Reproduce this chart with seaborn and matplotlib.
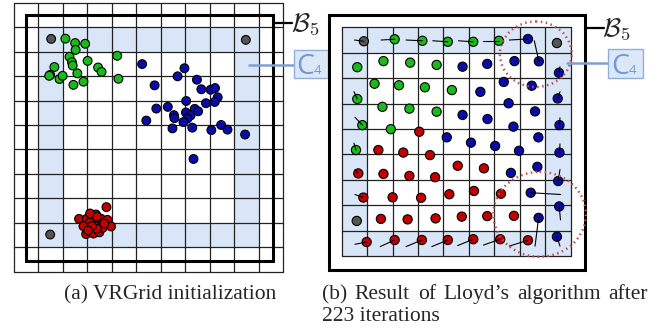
import matplotlib
matplotlib.use('Agg')
import matplotlib.pyplot as plt
import seaborn as sns
import pandas as pd
from matplotlib.patches import Rectangle, Ellipse

sns.set_theme(style='white')
plt.rcParams['font.family'] = ['Liberation Serif', 'DejaVu Serif']
plt.rcParams['mathtext.fontset'] = 'cm'

# ---------------- data (grid-cell units, 9x9 grid, y downward) ----------------
init_green_x = [1.10, 1.50, 1.91, 1.52, 3.22, 1.27, 1.37, 1.40, 2.01, 2.44, 2.58, 0.65, 0.48, 0.44, 0.86, 0.99, 1.59, 1.84, 1.43, 3.27]
init_green_y = [0.47, 0.65, 0.68, 0.93, 1.17, 1.21, 1.43, 1.57, 1.38, 1.65, 1.83, 1.63, 1.95, 1.99, 2.12, 1.99, 1.89, 2.23, 2.36, 2.11]
init_blue_x = [4.24, 5.97, 5.69, 4.75, 6.48, 6.66, 7.04, 7.22, 7.33, 7.21, 6.85, 6.04, 5.29, 4.82, 6.39, 6.53, 6.03, 6.22, 5.54, 5.56,
               6.09, 5.93, 4.41, 5.48, 6.29, 7.07, 7.47, 7.73, 8.45, 6.34]
init_blue_y = [1.51, 1.68, 2.01, 2.38, 2.15, 2.54, 2.56, 2.49, 2.87, 3.06, 3.11, 3.02, 3.26, 3.33, 3.34, 3.44, 3.49, 3.61, 3.60, 3.72,
               3.74, 3.88, 3.82, 4.14, 4.11, 4.21, 4.00, 4.19, 4.39, 5.39]
init_red_x = [2.78, 1.66, 1.98, 2.18, 2.25, 2.09, 2.45, 2.55, 2.82, 2.97, 2.32, 1.98, 1.95, 2.25, 2.49, 2.62, 2.39, 1.84, 2.18, 2.35,
              2.03, 2.69, 2.11, 2.40]
init_red_y = [7.36, 7.84, 7.83, 7.77, 7.91, 8.00, 7.96, 7.83, 7.88, 8.15, 8.14, 8.21, 8.46, 8.44, 8.39, 8.21, 8.25, 8.14, 8.14, 7.66,
              8.32, 8.03, 7.62, 7.75]
init_gray_x = [0.52, 8.48, 0.48]
init_gray_y = [0.48, 0.52, 8.48]

final_green_x = [2.08, 3.17, 4.17, 5.17, 6.18, 0.61, 1.64, 2.69, 3.73, 1.29, 2.25, 3.27, 4.33, 0.61, 1.60, 2.66, 3.73, 0.81, 1.93, 0.56]
final_green_y = [0.47, 0.53, 0.57, 0.57, 0.53, 1.57, 1.33, 1.39, 1.48, 2.22, 2.28, 2.36, 2.47, 2.82, 3.13, 3.20, 3.32, 3.85, 4.01, 4.83]
final_blue_x = [7.32, 7.75, 4.75, 5.72, 6.79, 8.54, 5.45, 6.37, 7.47, 8.49, 4.75, 5.73, 6.56, 7.60, 8.56, 4.13, 5.08, 6.03, 6.75, 7.73,
                8.56, 6.65, 6.97, 7.69, 8.51, 7.43, 8.55, 7.74, 8.46]
final_blue_y = [0.46, 1.34, 1.55, 1.44, 1.33, 1.79, 2.54, 2.15, 2.30, 2.80, 3.45, 3.61, 2.99, 3.31, 3.85, 4.33, 4.54, 4.67, 3.91, 4.33,
                4.93, 5.73, 4.86, 5.49, 6.05, 6.51, 7.05, 7.50, 8.24]
final_red_x = [3.05, 1.44, 2.42, 3.47, 0.65, 1.64, 2.66, 3.67, 4.56, 5.59, 0.85, 2.00, 3.12, 4.23, 5.20, 6.26, 1.54, 2.59, 3.69, 4.72,
               5.72, 6.77, 0.98, 2.08, 3.15, 4.17, 5.17, 6.23, 7.32]
final_red_y = [4.11, 4.83, 4.93, 5.03, 5.75, 5.77, 5.85, 5.90, 5.45, 5.55, 6.70, 6.69, 6.71, 6.57, 6.44, 6.55, 7.54, 7.56, 7.52, 7.45,
               7.43, 7.42, 8.45, 8.37, 8.37, 8.37, 8.34, 8.34, 8.38]
final_gray_x = [0.87, 8.46, 0.59]
final_gray_y = [0.55, 0.62, 7.62]

# displacement links: ring anchor -> assigned point
link_from_x = [0.50, 1.55, 2.53, 3.58, 4.59, 5.57, 6.59, 7.57, 8.58, 8.58, 8.58, 8.58, 8.58, 8.61, 8.60, 8.58,
               0.52, 1.51, 2.53, 3.54, 4.56, 5.57, 6.59, 7.60, 0.48, 0.52, 0.48, 0.52, 0.52]
link_from_y = [0.50, 0.50, 0.50, 0.53, 0.53, 0.53, 0.50, 0.53, 1.55, 2.54, 3.56, 4.59, 5.60, 6.58, 7.58, 8.61,
               8.54, 8.63, 8.63, 8.63, 8.59, 8.57, 8.61, 8.61, 2.53, 3.54, 4.56, 5.60, 6.58]
link_to_x = [0.87, 2.08, 3.17, 4.17, 5.17, 6.18, 7.32, 7.75, 8.54, 8.49, 8.56, 8.56, 8.51, 7.43, 8.55, 8.46,
             0.98, 2.08, 3.15, 4.17, 5.17, 6.23, 7.32, 7.74, 0.61, 0.81, 0.56, 0.65, 0.85]
link_to_y = [0.55, 0.47, 0.53, 0.57, 0.57, 0.53, 0.46, 1.34, 1.79, 2.80, 3.85, 4.93, 6.05, 6.51, 7.05, 8.24,
             8.45, 8.37, 8.37, 8.37, 8.34, 8.34, 8.38, 7.50, 2.82, 3.85, 4.83, 5.75, 6.70]

highlight_cx = [7.63, 7.78]
highlight_cy = [1.06, 7.36]
highlight_w = [2.82, 3.64]
highlight_h = [2.58, 3.34]

caption_a = "(a) VRGrid initialization"
caption_b1 = "(b) Result of Lloyd\u2019s algorithm after"
caption_b2 = "223 iterations"

palette = {'green': '#1cb81c', 'blue': '#0a0caa', 'red': '#c20000', 'gray': '#555555'}
CELL = '#d9e6f7'
N = 9
W, H = 654, 328


def frame(xs, ys):
    rows = []
    for name, gx, gy in zip(['green', 'blue', 'red', 'gray'], xs, ys):
        for a, b in zip(gx, gy):
            rows.append({'u': a, 'v': b, 'grp': name})
    return pd.DataFrame(rows)


df_init = frame([init_green_x, init_blue_x, init_red_x, init_gray_x],
                [init_green_y, init_blue_y, init_red_y, init_gray_y])
df_final = frame([final_green_x, final_blue_x, final_red_x, final_gray_x],
                 [final_green_y, final_blue_y, final_red_y, final_gray_y])

fig = plt.figure(figsize=(W / 100, H / 100), dpi=100)
axL = fig.add_axes([14 / W, 1 - 271.7 / H, 269 / W, 269 / H])
axR = fig.add_axes([316.3 / W, 1 - 281.4 / H, 279.8 / W, 279.5 / H])


def ring_cells(ax):
    for i in range(N):
        for j in range(N):
            if i in (0, N - 1) or j in (0, N - 1):
                ax.add_patch(Rectangle((i, j), 1, 1, facecolor=CELL, edgecolor='none', zorder=0))


def setup(ax):
    ax.set_xlim(-1, 10)
    ax.set_ylim(10, -1)
    ax.axis('off')


# ---- left panel ----
setup(axL)
ring_cells(axL)
for k in range(-1, 11):
    axL.plot([k, k], [-1, 10], color='#222222', lw=0.9, zorder=1, clip_on=False)
    axL.plot([-1, 10], [k, k], color='#222222', lw=0.9, zorder=1, clip_on=False)
axL.add_patch(Rectangle((-0.49, -0.48), 10.07, 10.04, fill=False, edgecolor='black', lw=2.2, zorder=2, clip_on=False))
sns.scatterplot(data=df_init, x='u', y='v', hue='grp', palette=palette, s=40, edgecolor='black',
                linewidth=0.8, legend=False, ax=axL, zorder=3, clip_on=False)

# ---- right panel ----
setup(axR)
ring_cells(axR)
for k in range(0, N + 1):
    axR.plot([k, k], [0, N], color='#222222', lw=0.9, zorder=1)
    axR.plot([0, N], [k, k], color='#222222', lw=0.9, zorder=1)
axR.add_patch(Rectangle((-0.49, -0.48), 10.06, 10.03, fill=False, edgecolor='black', lw=2.2, zorder=2, clip_on=False))
sns.scatterplot(data=df_final, x='u', y='v', hue='grp', palette=palette, s=44, edgecolor='black',
                linewidth=0.8, legend=False, ax=axR, zorder=3, clip_on=False)
for x0, y0, x1, y1 in zip(link_from_x, link_from_y, link_to_x, link_to_y):
    axR.plot([x0, x1], [y0, y1], color='black', lw=0.8, zorder=4)
for cx, cy, w, h in zip(highlight_cx, highlight_cy, highlight_w, highlight_h):
    axR.add_patch(Ellipse((cx, cy), w, h, fill=False, edgecolor='#c0504d', lw=1.8,
                          linestyle=(0, (0.6, 1.4)), zorder=5, clip_on=False))


# ---- labels B5 and C4 ----
SANS = ['Open Sans', 'DejaVu Sans']
C4_COLOR = '#7199d3'


def labels(ax, b_line, b_text, c_line, c_box, c_pos, d_pos):
    ax.plot(b_line[0], b_line[1], color='black', lw=1.6, clip_on=False, zorder=6)
    ax.text(b_text[0], b_text[1], r'$\mathcal{B}_5$', fontsize=19, ha='left', va='center', clip_on=False)
    ax.plot(c_line[0], c_line[1], color='#7f9fcd', lw=1.8, clip_on=False, zorder=6)
    (x0, x1, y0, y1) = c_box
    ax.add_patch(Rectangle((x0, y0), x1 - x0, y1 - y0, facecolor='#dce8f8', edgecolor='#8fb0dd',
                           lw=1.0, clip_on=False, zorder=6))
    ax.text(c_pos[0], c_pos[1], 'C', fontsize=20.5, family=SANS,
            color=C4_COLOR, ha='left', va='baseline', clip_on=False, zorder=7)
    ax.text(d_pos[0], d_pos[1], '4', fontsize=9.5, family=SANS,
            color=C4_COLOR, ha='left', va='baseline', clip_on=False, zorder=7)


labels(axL, ([9.58, 10.38], [-0.16, -0.16]), (10.33, -0.12),
       ([8.62, 10.43], [1.54, 1.54]), (10.43, 11.84, 0.93, 2.08), (10.55, 1.91), (11.27, 1.91))
labels(axR, ([9.57, 10.3], [0.04, 0.04]), (10.22, 0.06),
       ([8.84, 10.46], [1.42, 1.42]), (10.46, 11.86, 0.85, 2.01), (10.58, 1.84), (11.28, 1.84))

# ---- captions ----
CAP = 15.5
fig.text(170 / W, 1 - 299 / H, caption_a, fontsize=CAP, ha='center', va='baseline')

renderer = fig.canvas.get_renderer()
words = caption_b1.split(' ')
wtexts = [fig.text(0, 1 - 299 / H, wd, fontsize=CAP, ha='left', va='baseline') for wd in words]
widths = [t.get_window_extent(renderer).width for t in wtexts]
x_left, x_right = 322.0, 648.0
gap = (x_right - x_left - sum(widths)) / (len(words) - 1)
xpos = x_left
for t, wd in zip(wtexts, widths):
    t.set_x(xpos / W)
    xpos += wd + gap
fig.text(x_left / W, 1 - 321 / H, caption_b2, fontsize=CAP, ha='left', va='baseline')

fig.savefig('out.png', dpi=100)
